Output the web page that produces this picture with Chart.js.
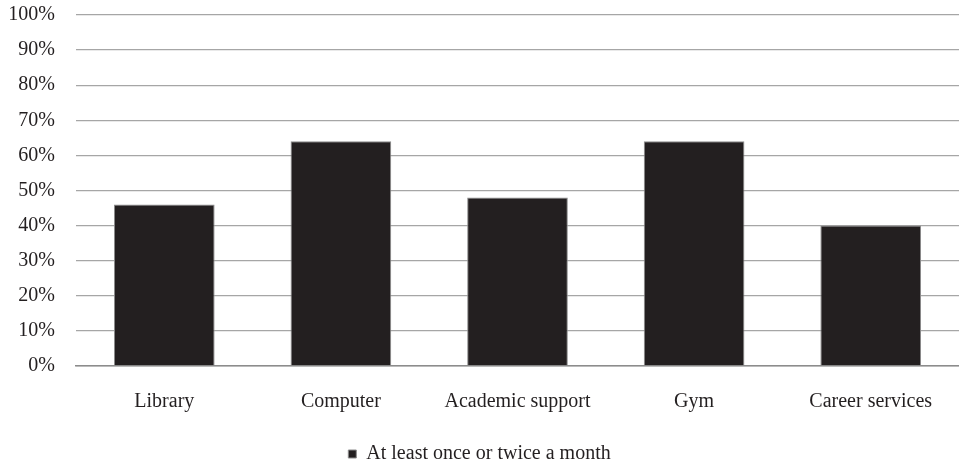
<!DOCTYPE html>
<html>
<head>
<meta charset="utf-8">
<script src="https://cdn.jsdelivr.net/npm/chart.js@4.4.1/dist/chart.umd.min.js"></script>
<style>
  html, body { margin: 0; padding: 0; background: #ffffff; }
  #wrap { width: 959px; height: 465px; }
</style>
</head>
<body>
<div id="wrap"><canvas id="c" width="959" height="465"></canvas></div>
<script>
// Share of students using each campus facility
const categories = ['Library', 'Computer', 'Academic support', 'Gym', 'Career services'];
const seriesName = 'At least once or twice a month';
const seriesValues = [46, 64, 48, 64, 40];
const yTicks = [0, 10, 20, 30, 40, 50, 60, 70, 80, 90, 100];

const ink = '#231f20';
const serif = '"Liberation Serif", "Times New Roman", serif';

new Chart(document.getElementById('c'), {
  type: 'bar',
  data: {
    labels: categories,
    datasets: [{
      label: seriesName,
      data: seriesValues,
      backgroundColor: ink,
      borderColor: '#8c8c8c',
      borderWidth: 1,
      borderSkipped: 'bottom',
      categoryPercentage: 1,
      barPercentage: 0.57
    }]
  },
  options: {
    responsive: false,
    animation: false,
    devicePixelRatio: 1,
    layout: { padding: { top: 15, right: 0, bottom: -9, left: 0 } },
    plugins: {
      tooltip: { enabled: false },
      legend: {
        position: 'bottom',
        labels: {
          color: ink,
          font: { family: serif, size: 20 },
          boxWidth: 8,
          boxHeight: 8,
          padding: 1
        }
      }
    },
    scales: {
      x: {
        afterFit: (scale) => { scale.height = 77; },
        grid: { display: false, drawTicks: false },
        border: { display: true, color: '#8c8c8c', width: 1.5 },
        ticks: {
          color: ink,
          font: { family: serif, size: 20 },
          padding: 24,
          maxRotation: 0
        }
      },
      y: {
        min: 0,
        max: 100,
        afterBuildTicks: (scale) => { scale.ticks = yTicks.map(v => ({ value: v })); },
        afterFit: (scale) => {
          scale.width = 76;
          scale.paddingTop = 0;
          scale.paddingBottom = 0;
        },
        grid: { color: '#a6a6a6', lineWidth: 1.3, drawTicks: false },
        border: { display: false },
        ticks: {
          color: ink,
          font: { family: serif, size: 20 },
          padding: 21,
          callback: (v) => v + '%'
        }
      }
    }
  }
});
</script>
</body>
</html>
